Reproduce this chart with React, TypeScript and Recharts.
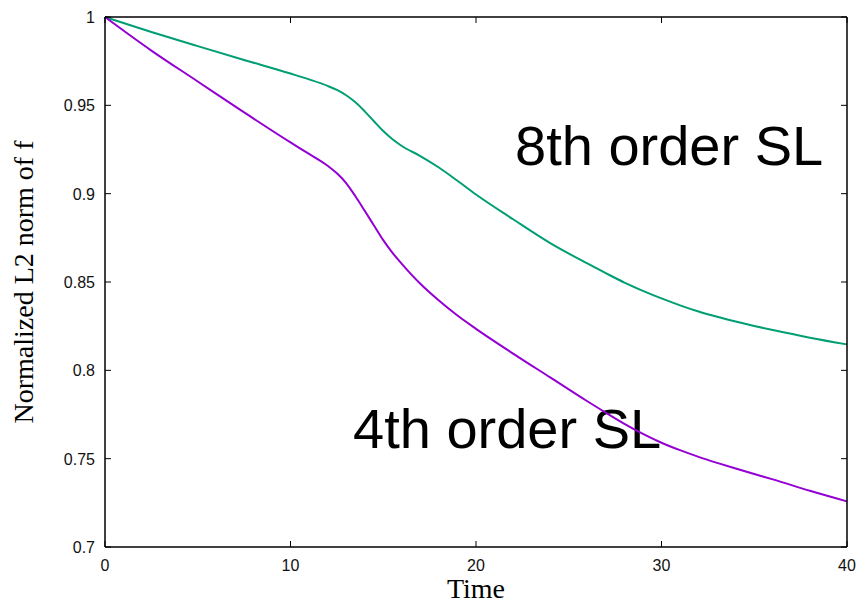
import React from 'react';
import { LineChart, Line, XAxis, YAxis, Customized } from 'recharts';

// time samples and normalized L2 norm for each scheme
const times = [
  0, 2.5, 5, 7.5, 10, 11, 12, 12.5, 13, 13.5, 14, 14.5, 15, 15.5, 16, 17, 18, 19, 20, 22, 24, 26, 27, 28, 29, 30, 31,
  32, 33, 34, 35, 36, 38, 40,
];
const eighthOrder = [
  1.0, 0.9915, 0.9835, 0.9757, 0.968, 0.9647, 0.961, 0.9587, 0.9557, 0.9517, 0.9466, 0.941, 0.9355, 0.9308, 0.927,
  0.9213, 0.9148, 0.9073, 0.8995, 0.8855, 0.872, 0.8605, 0.855, 0.8497, 0.845, 0.8407, 0.8368, 0.8333, 0.8303, 0.8276,
  0.8251, 0.8228, 0.8185, 0.8147,
];
const fourthOrder = [
  1.0, 0.981, 0.9635, 0.946, 0.929, 0.9225, 0.9158, 0.9115, 0.906, 0.8985, 0.8903, 0.882, 0.8737, 0.8665, 0.8603,
  0.849, 0.8395, 0.831, 0.8235, 0.8095, 0.796, 0.7825, 0.776, 0.7697, 0.764, 0.759, 0.7548, 0.751, 0.7476, 0.7444,
  0.7413, 0.7383, 0.7318, 0.7258,
];
const xTicks = [0, 10, 20, 30, 40];
const yTicks = [0.7, 0.75, 0.8, 0.85, 0.9, 0.95, 1];

const data = times.map((t, i) => ({ t, o8: eighthOrder[i], o4: fourthOrder[i] }));

const W = 859;
const H = 605;
// plot box edges in px
const LEFT = 105;
const RIGHT = 847;
const TOP = 17;
const BOTTOM = 547;
const TICK = 6;

const SANS = '"Liberation Sans", Arial, Helvetica, sans-serif';
const SERIF = '"Liberation Serif", "Times New Roman", serif';

const axisLine = { stroke: '#000', strokeWidth: 1.5 };

const fmtY = (v: number) => (v === 1 ? '1' : String(Number(v.toFixed(2))));

// gnuplot-style ticks: short marks pointing into the plot box
const BottomTick = (props: any) => {
  const c = props.payload.coordinate;
  return (
    <g>
      <line x1={c} x2={c} y1={BOTTOM} y2={BOTTOM - TICK} stroke="#000" />
      <text x={c} y={571} textAnchor="middle" fontSize={16} fontFamily={SANS} fill="#111">
        {props.payload.value}
      </text>
    </g>
  );
};

const LeftTick = (props: any) => {
  const c = props.payload.coordinate;
  return (
    <g>
      <line x1={LEFT} x2={LEFT + TICK} y1={c} y2={c} stroke="#000" />
      <text x={95} y={c + 6} textAnchor="end" fontSize={16} fontFamily={SANS} fill="#111">
        {fmtY(props.payload.value)}
      </text>
    </g>
  );
};

const TopTick = (props: any) => {
  const c = props.payload.coordinate;
  return <line x1={c} x2={c} y1={TOP} y2={TOP + TICK} stroke="#000" />;
};

const RightTick = (props: any) => {
  const c = props.payload.coordinate;
  return <line x1={RIGHT - TICK} x2={RIGHT} y1={c} y2={c} stroke="#000" />;
};

const SchemeLabels = () => (
  <g fontFamily={SANS} fontSize={56} fill="#000">
    <text x={515} y={165}>8th order SL</text>
    <text x={353} y={448}>4th order SL</text>
  </g>
);

const App: React.FC = () => {
  return (
    <div style={{ position: 'absolute', left: 0, top: 0, background: '#fff' }}>
      <LineChart
        width={W}
        height={H}
        data={data}
        margin={{ top: TOP - 1, right: W - RIGHT - 1, left: 0, bottom: 0 }}
      >
        <XAxis
          dataKey="t"
          type="number"
          domain={[0, 40]}
          ticks={xTicks}
          height={H - BOTTOM}
          tickLine={false}
          tick={BottomTick}
          axisLine={axisLine}
          label={{ value: 'Time', position: 'insideBottom', offset: 7, style: { fontFamily: SERIF, fontSize: 28, fill: '#000' } }}
        />
        <XAxis
          xAxisId="top"
          dataKey="t"
          orientation="top"
          type="number"
          domain={[0, 40]}
          ticks={xTicks}
          height={1}
          tickLine={false}
          tick={TopTick}
          axisLine={axisLine}
        />
        <YAxis
          type="number"
          domain={[0.7, 1]}
          ticks={yTicks}
          width={LEFT}
          tickLine={false}
          tick={LeftTick}
          axisLine={axisLine}
          label={{
            value: 'Normalized L2 norm of f',
            angle: -90,
            position: 'insideLeft',
            offset: 23,
            style: { textAnchor: 'middle', fontFamily: SERIF, fontSize: 28, fill: '#000' },
          }}
        />
        <YAxis
          yAxisId="right"
          orientation="right"
          type="number"
          domain={[0.7, 1]}
          ticks={yTicks}
          width={1}
          tickLine={false}
          tick={RightTick}
          axisLine={axisLine}
        />
        <Customized component={SchemeLabels} />
        <Line type="monotone" dataKey="o8" stroke="#009e73" strokeWidth={2} dot={false} isAnimationActive={false} />
        <Line type="monotone" dataKey="o4" stroke="#9400d3" strokeWidth={2} dot={false} isAnimationActive={false} />
        {/* invisible copy so the mirrored top/right axes get a domain */}
        <Line
          xAxisId="top"
          yAxisId="right"
          dataKey="o8"
          stroke="none"
          dot={false}
          activeDot={false}
          isAnimationActive={false}
        />
      </LineChart>
    </div>
  );
};

export default App;
